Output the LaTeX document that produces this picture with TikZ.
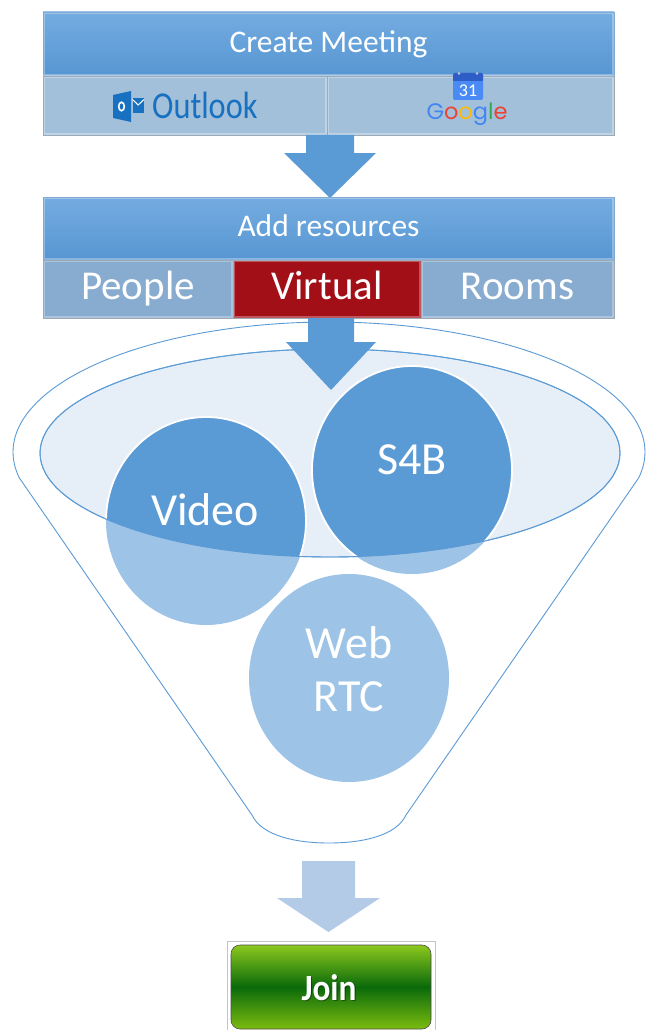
\documentclass[tikz,border=0pt]{standalone}
\usepackage{fontspec}
\setmainfont{Carlito}
\newfontfamily\gfont{Poppins}
\usetikzlibrary{shapes.geometric}
\definecolor{hdrtop}{HTML}{74ACE0}
\definecolor{hdrbot}{HTML}{5796D3}
\definecolor{hdrline}{HTML}{7FA9D3}
\definecolor{cellc}{HTML}{A3C0DA}
\definecolor{cellline}{HTML}{9EA9B6}
\definecolor{pvr}{HTML}{88ABD0}
\definecolor{virt}{HTML}{A30F17}
\definecolor{arrowc}{HTML}{5B9BD5}
\definecolor{arrowlt}{HTML}{B4CBE8}
\definecolor{ellin}{HTML}{E6EEF8}
\definecolor{rim}{HTML}{5B9BD5}
\definecolor{cdark}{HTML}{5B9BD5}
\definecolor{clight}{HTML}{9DC3E6}
\definecolor{olblue}{HTML}{1770C0}
\definecolor{gblue}{HTML}{4285F4}
\definecolor{gred}{HTML}{EA4335}
\definecolor{gyellow}{HTML}{FBBC05}
\definecolor{ggreen}{HTML}{34A853}
\definecolor{caltop}{HTML}{2E5DC8}
\definecolor{calbody}{HTML}{4A8AF4}
\definecolor{jtop}{HTML}{8CC81E}
\definecolor{jmid}{HTML}{0A6A0A}
\definecolor{jbot}{HTML}{7CBC10}
\definecolor{framec}{HTML}{C4C4C4}
\begin{document}
\begin{tikzpicture}[x=1pt,y=-1pt,
  bevel/.style={path picture={\draw[white,opacity=0.3,line width=4pt] (path picture bounding box.south west) rectangle (path picture bounding box.north east);}},
  hdr/.style={rectangle, draw=hdrline, line width=0.8pt, top color=hdrtop, bottom color=hdrbot, text=white,
    font=\fontsize{31.5}{36}\selectfont, text height=23pt, text depth=6.5pt, inner sep=0pt, outer sep=0pt, bevel},
  cell/.style={rectangle, draw=cellline, line width=0.8pt, fill=cellc, inner sep=0pt, outer sep=0pt, bevel},
  pvrcell/.style={cell, fill=pvr, text=white, font=\fontsize{41}{48}\selectfont, text height=29pt, text depth=8pt, minimum height=58pt},
  ctext/.style={text=white, font=\fontsize{46}{53}\selectfont, inner sep=0pt},
  blockarrow/.style={fill=arrowc},
  circfill/.style={x radius=100pt, y radius=104pt}
]
\useasboundingbox (0,0) rectangle (646,1030);
\fill[white] (0,0) rectangle (646,1030);

% ---- Create meeting
\node[hdr, minimum width=571pt, minimum height=64pt] (create) at (328.5,44) {Create Meeting};
\node[cell, minimum width=284pt, minimum height=59pt] (outlook) at (185,105.5) {};
\node[cell, minimum width=287pt, minimum height=59pt] (google) at (470.5,105.5) {};

% Outlook logo
\fill[olblue] (113,95) -- (131,91) -- (131,122) -- (113,118) -- cycle;
\draw[white, line width=1.6pt] (121.5,106.5) ellipse [x radius=2.8pt, y radius=4.3pt];
\fill[olblue] (132.5,98) rectangle (144,113);
\draw[white, line width=1pt] (132.5,99.5) -- (138.2,105) -- (144,99.5);
\node[font=\fontsize{38}{40}\selectfont, text=olblue, anchor=base west, inner sep=0pt, xscale=0.85] (outlooktxt) at (152,118.5) {Outlook};

% Google logo
\fill[calbody, rounded corners=2pt] (453,73) rectangle (483,100);
\fill[caltop, rounded corners=2pt] (453,73) rectangle (483,81);
\fill[caltop] (453,79) rectangle (483,81);
\fill[gray!40] (459,73.5) circle[radius=1.3pt] (477,73.5) circle[radius=1.3pt];
\node[font=\fontsize{18}{18}\selectfont, text=white, inner sep=0pt] (cal31) at (468,90.5) {31};
\node[font=\gfont\fontsize{22.5}{25}\selectfont, anchor=base, inner sep=0pt] (googletxt) at (467,120)
  {\textcolor{gblue}{G}\textcolor{gred}{o}\textcolor{gyellow}{o}\textcolor{gblue}{g}\textcolor{ggreen}{l}\textcolor{gred}{e}};

% ---- arrow 1
\fill[blockarrow] (306,135) -- (354,135) -- (354,153) -- (376,153) -- (330,198) -- (284,153) -- (306,153) -- cycle;

% ---- Add resources
\node[hdr, minimum width=571pt, minimum height=63pt] (addres) at (328.5,228.5) {Add resources};
\node[pvrcell, minimum width=190pt] (people) at (138,289) {People};
\node[pvrcell, fill=virt, minimum width=188pt] (virtual) at (327,289) {Virtual};
\node[pvrcell, minimum width=193pt] (rooms) at (517.5,289) {Rooms};

% ---- funnel
\draw[rim, line width=0.9pt, fill=white]
  plot[domain=168.5:371.5, samples=140, smooth] ({329+316*cos(\x)},{452+130*sin(\x)})
  -- (406,815) .. controls (396,836) and (362,843) .. (329,843)
  .. controls (296,843) and (262,836) .. (252,815) -- cycle;

\node[ellipse, fill=ellin, draw=rim, line width=0.9pt, minimum width=580pt, minimum height=208pt, inner sep=0pt] (inner) at (330,453) {};

\coordinate (cV) at (206,521);
\coordinate (cS) at (412,470);
\coordinate (cW) at (349,678);
\fill[clight] (cV) ellipse [circfill];
\fill[clight] (cS) ellipse [circfill];
\fill[clight] (cW) ellipse [circfill];
\begin{scope}
  \clip (inner.center) ellipse [x radius=290pt, y radius=104pt];
  \filldraw[fill=cdark, draw=white, line width=1.8pt] (cV) ellipse [circfill];
  \filldraw[fill=cdark, draw=white, line width=1.8pt] (cS) ellipse [circfill];
\end{scope}
\draw[rim, line width=0.9pt] (inner.center) ellipse [x radius=290pt, y radius=104pt];

\node[ctext, anchor=base] (video) at (205,525) {Video};
\node[ctext, anchor=base] (s4b) at (412,474) {S4B};
\node[ctext, align=center] (webrtc) at (349,669.5) {Web\\RTC};

% ---- arrow 2
\fill[blockarrow] (308,318) -- (354,318) -- (354,342) -- (376,342) -- (331,390) -- (286,342) -- (308,342) -- cycle;

% ---- arrow 3
\fill[arrowlt] (302,861) -- (355,861) -- (355,898) -- (380,898) -- (328.5,932) -- (277,898) -- (302,898) -- cycle;

% ---- Join button
\node[draw=framec, fill=white, line width=0.8pt, minimum width=208pt, minimum height=94pt, inner sep=0pt] (frame) at (331,988) {};
\node[draw=gray!60!black, line width=0.6pt, rounded corners=9pt, top color=jtop, bottom color=jbot, middle color=jmid,
      minimum width=200pt, minimum height=84pt, inner sep=0pt] (joinbtn) at (331,987) {};
\node[font=\bfseries\fontsize{37}{40}\selectfont, text=black, opacity=0.35, anchor=base, inner sep=0pt, xscale=0.9] (joinshadow) at (330.2,1001.2) {Join};
\node[font=\bfseries\fontsize{37}{40}\selectfont, text=white, anchor=base, inner sep=0pt, xscale=0.9] (join) at (329,1000) {Join};
\end{tikzpicture}
\end{document}
